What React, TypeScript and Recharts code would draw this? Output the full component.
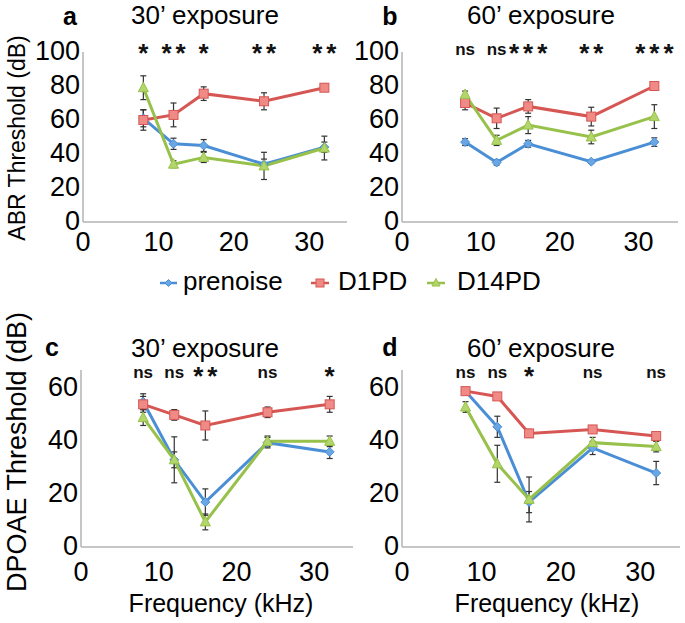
import React from "react";
import { ComposedChart, Line, XAxis, YAxis, ErrorBar, ReferenceDot } from "recharts";

// frequencies (kHz) shared by every panel
const FREQS = [8, 12, 16, 24, 32];

// a: ABR, 30' exposure
const aPre = [61, 46, 45, 34, 44];
const aPreErr = [5, 3.3, 3.5, 3, 3];
const aD1 = [60, 63, 75.5, 71, 79];
const aD1Err = [6, 7, 4, 5, 2];
const aD14 = [79, 34, 38, 33, 43.5];
const aD14Err = [7, 2, 3, 8, 7];
const aSig = ["*", "**", "*", "**", "**"];

// b: ABR, 60' exposure
const bPre = [47, 35, 46, 35.5, 47];
const bPreErr = [2, 1.5, 2, 1, 2.5];
const bD1 = [70, 61, 68, 62, 80];
const bD1Err = [4, 6, 4, 5.5, 1];
const bD14 = [75, 48, 57, 50, 62];
const bD14Err = [2, 3, 5, 4, 7];
const bSig = ["ns", "ns", "***", "**", "***"];

// c: DPOAE, 30' exposure
const cPre = [55, 33, 17, 39.5, 36];
const cPreErr = [3, 3, 5, 2, 2.5];
const cD1 = [54, 50, 46, 51, 54];
const cD1Err = [3, 2, 5.5, 2, 3];
const cD14 = [49, 33, 9.5, 40, 40];
const cD14Err = [3, 8.7, 3, 2, 2];
const cSig = ["ns", "ns", "**", "ns", "*"];

// d: DPOAE, 60' exposure
const dPre = [59, 45.5, 17, 37.5, 28];
const dPreErr = [1, 4, 4, 2.5, 4.4];
const dD1 = [59, 57, 43, 44.5, 42];
const dD1Err = [1, 1, 1.5, 1, 1];
const dD14 = [53, 31.5, 18, 39.5, 38];
const dD14Err = [2, 7, 8.5, 2, 2];
const dSig = ["ns", "ns", "*", "ns", "ns"];

const X_TICKS = [0, 10, 20, 30];
const ABR_TICKS = [0, 20, 40, 60, 80, 100];
const DPOAE_TICKS = [0, 20, 40, 60];

const FONT = '"Liberation Sans", Arial, Helvetica, sans-serif';
const BLUE = "#4a8fd6";
const RED = "#d65653";
const GREEN = "#97c14a";
const AXIS = "#b3b3b3";
const ERR = "#333";
const TICK_SIZE = 27;

const buildRows = (
  pre: number[], preErr: number[],
  d1: number[], d1Err: number[],
  d14: number[], d14Err: number[]
) =>
  FREQS.map((f, i) => ({
    f,
    pre: pre[i], preErr: preErr[i],
    d1: d1[i], d1Err: d1Err[i],
    d14: d14[i], d14Err: d14Err[i],
  }));

const Diamond = (p: any) => {
  const { cx, cy } = p;
  if (cx == null || cy == null) return null;
  const s = 4.5;
  return (
    <path key={`dm-${p.index}`} d={`M${cx},${cy - s}L${cx + s},${cy}L${cx},${cy + s}L${cx - s},${cy}Z`}
      fill="#6aa6e3" stroke={BLUE} strokeWidth={1} />
  );
};

const Square = (p: any) => {
  const { cx, cy } = p;
  if (cx == null || cy == null) return null;
  return (
    <rect key={`sq-${p.index}`} x={cx - 4.5} y={cy - 4.5} width={9} height={9}
      fill="#ef8a86" stroke={RED} strokeWidth={1} />
  );
};

const Triangle = (p: any) => {
  const { cx, cy } = p;
  if (cx == null || cy == null) return null;
  return (
    <path key={`tr-${p.index}`} d={`M${cx},${cy - 5.5}L${cx + 5},${cy + 4}L${cx - 5},${cy + 4}Z`}
      fill="#b2d66a" stroke={GREEN} strokeWidth={1} />
  );
};

const YTick = (p: any) => (
  <text x={p.x} y={p.y - 2} dy="0.355em" textAnchor="end" fontFamily={FONT} fontSize={TICK_SIZE} fill="#000">
    {p.payload.value}
  </text>
);

const XTick = (p: any) => (
  <text x={p.x} y={p.y} dy="0.71em" textAnchor="middle" fontFamily={FONT} fontSize={TICK_SIZE} fill="#000">
    {p.payload.value}
  </text>
);

const SigText = ({ cx, cy, text, shift }: { cx: number; cy: number; text: string; shift: number }) => {
  if (cx == null || cy == null) return null;
  if (text === "ns") {
    return (
      <text x={cx} y={cy + 2.5 + shift} textAnchor="middle" fontFamily={FONT} fontWeight="bold" fontSize={17} fill="#111">
        ns
      </text>
    );
  }
  return (
    <text x={cx} dx={2} y={cy + 10 + shift} textAnchor="middle" fontFamily={FONT} fontWeight="bold"
      fontSize={26} letterSpacing={4} fill="#111">
      {text}
    </text>
  );
};

interface PanelProps {
  left: number;
  top: number;
  width: number;
  height: number;
  yAxisWidth: number;
  marginTop: number;
  marginRight: number;
  xAxisHeight: number;
  xTickGap: number;
  yMax: number;
  yTicks: number[];
  rows: ReturnType<typeof buildRows>;
  sig: string[];
  sigShift: number;
}

const Panel = (props: PanelProps) => {
  const { left, top, width, height, yAxisWidth, marginTop, marginRight, xAxisHeight, xTickGap, yMax, yTicks, rows, sig, sigShift } = props;
  return (
    <div style={{ position: "absolute", left, top, width, height }}>
      <ComposedChart width={width} height={height} data={rows}
        margin={{ top: marginTop, right: marginRight, bottom: 0, left: 0 }}>
        <XAxis dataKey="f" type="number" domain={[0, 35]} ticks={X_TICKS} interval={0}
          tickLine={false} tickSize={0} tickMargin={xTickGap} height={xAxisHeight}
          axisLine={{ stroke: AXIS, strokeWidth: 1.5 }} tick={XTick} />
        <YAxis type="number" domain={[0, yMax]} ticks={yTicks} interval={0}
          tickLine={false} tickSize={0} tickMargin={3} width={yAxisWidth}
          axisLine={{ stroke: AXIS, strokeWidth: 1.5 }} tick={YTick} />
        <Line type="linear" dataKey="pre" stroke={BLUE} strokeWidth={3} dot={Diamond}
          activeDot={false} isAnimationActive={false}>
          <ErrorBar dataKey="preErr" direction="y" width={3} stroke={ERR} strokeWidth={1.2} />
        </Line>
        <Line type="linear" dataKey="d1" stroke={RED} strokeWidth={3} dot={Square}
          activeDot={false} isAnimationActive={false}>
          <ErrorBar dataKey="d1Err" direction="y" width={3} stroke={ERR} strokeWidth={1.2} />
        </Line>
        <Line type="linear" dataKey="d14" stroke={GREEN} strokeWidth={3} dot={Triangle}
          activeDot={false} isAnimationActive={false}>
          <ErrorBar dataKey="d14Err" direction="y" width={3} stroke={ERR} strokeWidth={1.2} />
        </Line>
        {FREQS.map((f, i) => (
          <ReferenceDot key={`sig-${f}`} x={f} y={yMax} r={0} ifOverflow="visible"
            shape={(p: any) => <SigText cx={p.cx} cy={p.cy} text={sig[i]} shift={sigShift} />} />
        ))}
      </ComposedChart>
    </div>
  );
};

const App = () => {
  const rowsA = buildRows(aPre, aPreErr, aD1, aD1Err, aD14, aD14Err);
  const rowsB = buildRows(bPre, bPreErr, bD1, bD1Err, bD14, bD14Err);
  const rowsC = buildRows(cPre, cPreErr, cD1, cD1Err, cD14, cD14Err);
  const rowsD = buildRows(dPre, dPreErr, dD1, dD1Err, dD14, dD14Err);

  const titleStyle = { fontFamily: FONT, fontSize: 26, fill: "#000" };
  const letterStyle = { fontFamily: FONT, fontSize: 25, fontWeight: "bold" as const, fill: "#000" };

  return (
    <div style={{ position: "absolute", left: 0, top: 0, width: 685, height: 623, background: "#fff", overflow: "hidden" }}>
      <Panel left={0} top={0} width={360} height={260} yAxisWidth={83} marginTop={52} marginRight={13}
        xAxisHeight={38} xTickGap={10} yMax={100} yTicks={ABR_TICKS} rows={rowsA} sig={aSig} sigShift={0} />
      <Panel left={340} top={0} width={345} height={260} yAxisWidth={62} marginTop={52} marginRight={7}
        xAxisHeight={38} xTickGap={10} yMax={100} yTicks={ABR_TICKS} rows={rowsB} sig={bSig} sigShift={0} />
      <Panel left={0} top={300} width={360} height={300} yAxisWidth={81} marginTop={70} marginRight={7}
        xAxisHeight={53} xTickGap={15} yMax={67} yTicks={DPOAE_TICKS} rows={rowsC} sig={cSig} sigShift={5} />
      <Panel left={340} top={300} width={345} height={300} yAxisWidth={62} marginTop={70} marginRight={5}
        xAxisHeight={53} xTickGap={15} yMax={67} yTicks={DPOAE_TICKS} rows={rowsD} sig={dSig} sigShift={5} />

      <svg width={685} height={623} style={{ position: "absolute", left: 0, top: 0, pointerEvents: "none" }}>
        <text x={70} y={25} textAnchor="middle" {...letterStyle}>a</text>
        <text x={205} y={24} textAnchor="middle" {...titleStyle}>30’ exposure</text>
        <text x={390} y={25} textAnchor="middle" {...letterStyle}>b</text>
        <text x={541} y={24} textAnchor="middle" {...titleStyle}>60’ exposure</text>
        <text x={52} y={356} textAnchor="middle" {...letterStyle}>c</text>
        <text x={205} y={357} textAnchor="middle" {...titleStyle}>30’ exposure</text>
        <text x={390} y={356} textAnchor="middle" {...letterStyle}>d</text>
        <text x={541} y={357} textAnchor="middle" {...titleStyle}>60’ exposure</text>

        <text transform="translate(25,138) rotate(-90)" textAnchor="middle" fontFamily={FONT} fontSize={23} fill="#000">
          ABR Threshold (dB)
        </text>
        <text transform="translate(26,452) rotate(-90)" textAnchor="middle" fontFamily={FONT} fontSize={27} fill="#000">
          DPOAE Threshold (dB)
        </text>

        <text x={221} y={612} textAnchor="middle" fontFamily={FONT} fontSize={25} fill="#000">Frequency (kHz)</text>
        <text x={547} y={612} textAnchor="middle" fontFamily={FONT} fontSize={25} fill="#000">Frequency (kHz)</text>

        {/* legend */}
        <line x1={160} y1={283} x2={177} y2={283} stroke={BLUE} strokeWidth={2.5} />
        <path d="M168.5,279.5L172,283L168.5,286.5L165,283Z" fill="#6aa6e3" stroke={BLUE} />
        <text x={183} y={290} fontFamily={FONT} fontSize={26} fill="#000">prenoise</text>
        <line x1={311} y1={283} x2={329} y2={283} stroke={RED} strokeWidth={2.5} />
        <rect x={316} y={279} width={8} height={8} fill="#ef8a86" stroke={RED} />
        <text x={338} y={290} fontFamily={FONT} fontSize={26} fill="#000">D1PD</text>
        <line x1={427} y1={283} x2={445} y2={283} stroke={GREEN} strokeWidth={2.5} />
        <path d="M436,278.5L440,286L432,286Z" fill="#b2d66a" stroke={GREEN} />
        <text x={457} y={290} fontFamily={FONT} fontSize={26} fill="#000">D14PD</text>
      </svg>
    </div>
  );
};

export default App;
